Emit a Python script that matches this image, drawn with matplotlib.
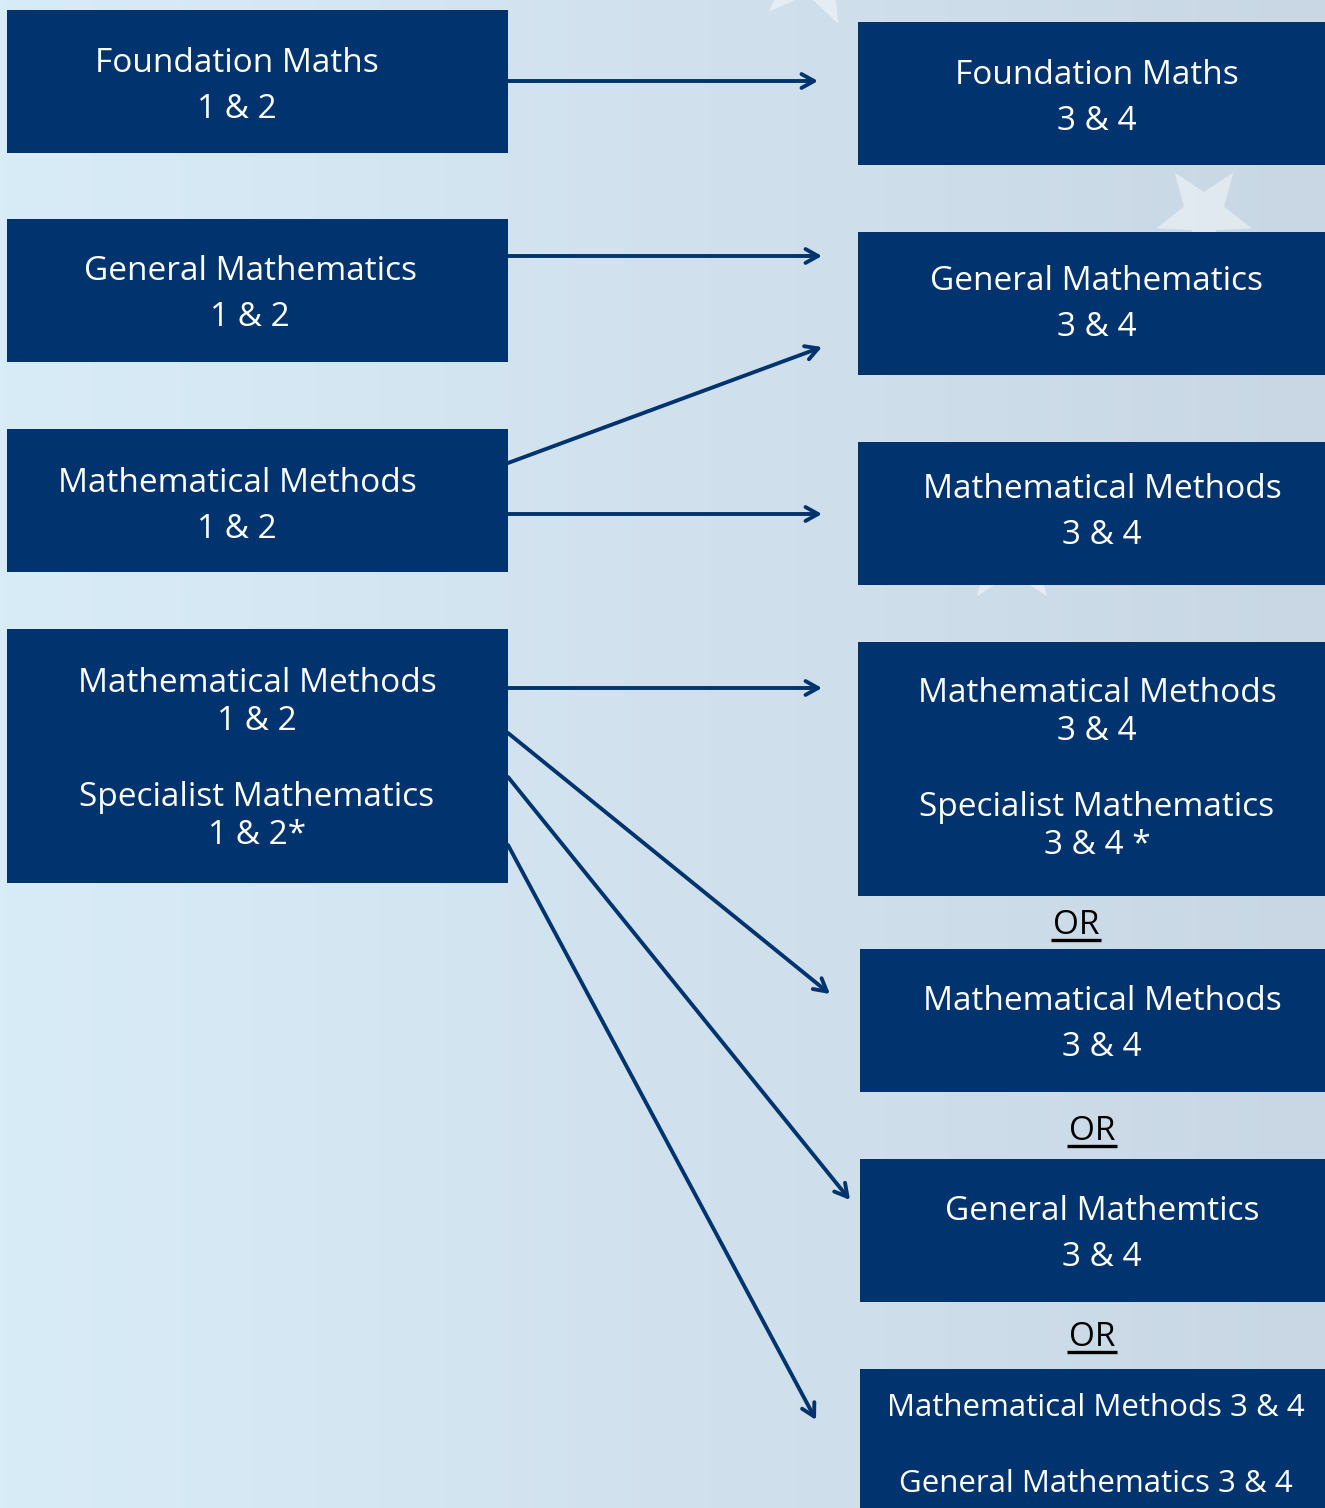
import numpy as np
import matplotlib
matplotlib.use('Agg')
from matplotlib import pyplot as plt
from matplotlib.patches import Rectangle, Polygon, FancyArrowPatch

plt.rcParams['font.family'] = ['Open Sans', 'DejaVu Sans']

NAVY = '#01346f'

# Year 10 (units 1 & 2) subjects on the left
left_labels = [
    ['Foundation Maths', '1 & 2'],
    ['General Mathematics', '1 & 2'],
    ['Mathematical Methods', '1 & 2'],
    ['Mathematical Methods', '1 & 2', '', 'Specialist Mathematics', '1 & 2*'],
]
# Year 11/12 (units 3 & 4) pathways on the right
right_labels = [
    ['Foundation Maths', '3 & 4'],
    ['General Mathematics', '3 & 4'],
    ['Mathematical Methods', '3 & 4'],
    ['Mathematical Methods', '3 & 4', '', 'Specialist Mathematics', '3 & 4 *'],
    ['Mathematical Methods', '3 & 4'],
    ['General Mathemtics', '3 & 4'],
    ['Mathematical Methods 3 & 4', '', 'General Mathematics 3 & 4'],
]
or_label = 'OR'

# box geometry in pixels: x0, y0, x1, y1, text centre x, text centre y, line gap, font size
left_boxes = [
    (7, 10, 508, 153, 237, 83, 46, 24),
    (7, 219, 508, 362, 250, 291, 46, 24),
    (7, 429, 508, 572, 237, 502, 46, 24),
    (7, 629, 508, 883, 257, 756, 38, 24),
]
right_boxes = [
    (858, 22, 1325, 165, 1097, 95, 46, 24),
    (858, 232, 1325, 375, 1097, 301, 46, 24),
    (858, 442, 1325, 585, 1102, 509, 46, 24),
    (858, 642, 1325, 896, 1097, 765, 38, 24),
    (860, 949, 1325, 1092, 1102, 1021, 46, 24),
    (860, 1159, 1325, 1302, 1102, 1230, 46, 24),
    (860, 1369, 1325, 1540, 1096, 1443, 38, 22.5),
]
or_pos = [(1076, 922), (1092, 1128), (1092, 1334)]

# start point, end point of each pathway arrow
arrows = [
    ((508, 81), (818, 81)),
    ((508, 256), (822, 256)),
    ((508, 463), (822, 347)),
    ((508, 514), (822, 514)),
    ((508, 688), (822, 688)),
    ((508, 733), (830, 994)),
    ((508, 777), (850, 1200)),
    ((508, 845), (816, 1420)),
]

W, H = 1325, 1508
fig = plt.figure(figsize=(W / 100, H / 100), dpi=100)
ax = fig.add_axes([0, 0, 1, 1])
ax.set_xlim(0, W)
ax.set_ylim(H, 0)
ax.axis('off')

# background gradient
c0 = np.array([216, 236, 247]) / 255
c1 = np.array([201, 215, 228]) / 255
t = np.linspace(0, 1, 256)
grad = c0[None, :] * (1 - t[:, None]) + c1[None, :] * t[:, None]
ax.imshow(grad[None, :, :], extent=[0, W, H, 0], aspect='auto', zorder=0)


def star(cx, cy, R, rot):
    ang = np.deg2rad(rot + np.arange(10) * 36)
    rad = np.where(np.arange(10) % 2 == 0, R, R * 0.42)
    return np.c_[cx + rad * np.cos(ang), cy - rad * np.sin(ang)]


for cx, cy, R, rot in [(812, -30, 60, 80), (1204, 213, 50, 270),
                       (1012, 548, 60, 90), (1370, -20, 60, 100)]:
    ax.add_patch(Polygon(star(cx, cy, R, rot), closed=True, fc='white',
                         ec='none', alpha=0.45, zorder=1))


def draw_box(b, lines):
    x0, y0, x1, y1, tx, yc, gap, fs = b
    ax.add_patch(Rectangle((x0, y0), x1 - x0, y1 - y0, fc=NAVY, ec='none', zorder=2))
    n = len(lines)
    for i, s in enumerate(lines):
        y = yc + (i - (n - 1) / 2) * gap
        ax.text(tx, y, s, color='white', fontsize=fs, ha='center',
                va='center_baseline', zorder=3)


for b, lab in zip(left_boxes, left_labels):
    draw_box(b, lab)
for b, lab in zip(right_boxes, right_labels):
    draw_box(b, lab)

for x, y in or_pos:
    ax.text(x, y, or_label, color='black', fontsize=24, ha='center',
            va='center_baseline', zorder=3)
    ax.plot([x - 25, x + 25], [y + 18, y + 18], color='black', lw=2.4,
            solid_capstyle='butt', zorder=3)

for p0, p1 in arrows:
    ax.add_patch(FancyArrowPatch(p0, p1, arrowstyle='->,head_length=9,head_width=5',
                                 color=NAVY, lw=2.8, shrinkA=0, shrinkB=0,
                                 capstyle='round', joinstyle='round', zorder=2))

fig.savefig('out.png', dpi=100)
